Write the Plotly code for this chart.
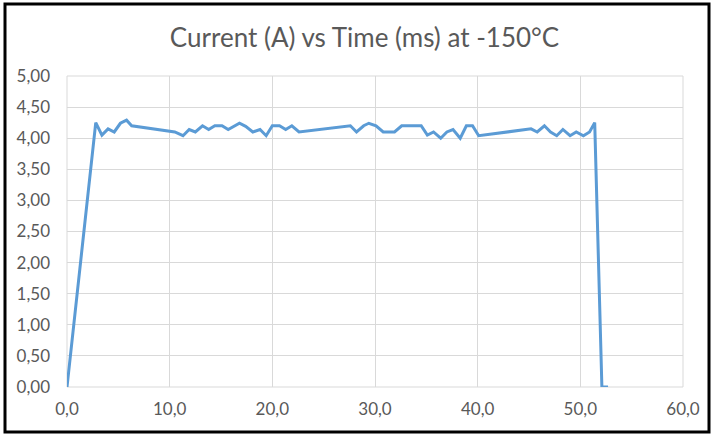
import plotly.graph_objects as go

time_ms = [0.0, 2.8, 3.4, 4.0, 4.6, 5.2, 5.8, 6.3, 10.5, 11.3, 11.9, 12.5, 13.2, 13.8,
           14.4, 15.1, 15.7, 16.3, 16.8, 17.4, 18.1, 18.8, 19.4, 20.0, 20.7, 21.3,
           21.9, 22.6, 27.6, 28.2, 28.9, 29.4, 30.1, 30.8, 31.9, 32.6, 34.5, 35.1,
           35.7, 36.4, 37.0, 37.6, 38.3, 38.9, 39.5, 40.1, 44.8, 45.2, 45.8, 46.5,
           47.1, 47.7, 48.3, 49.0, 49.6, 50.3, 50.9, 51.4, 52.1, 52.7]
current_a = [0.00, 4.25, 4.05, 4.15, 4.10, 4.24, 4.29, 4.20, 4.10, 4.04, 4.14, 4.10, 4.20, 4.14,
             4.20, 4.20, 4.14, 4.20, 4.24, 4.19, 4.10, 4.14, 4.04, 4.20, 4.20, 4.14,
             4.20, 4.10, 4.20, 4.10, 4.20, 4.24, 4.20, 4.10, 4.10, 4.20, 4.20, 4.05,
             4.10, 4.00, 4.10, 4.14, 4.00, 4.20, 4.20, 4.04, 4.15, 4.15, 4.10, 4.20,
             4.10, 4.04, 4.14, 4.04, 4.10, 4.04, 4.10, 4.25, 0.00, 0.00]

title_text = "Current (A) vs Time (ms) at -150°C"

fig = go.Figure()
fig.add_trace(go.Scatter(x=time_ms, y=current_a, mode="lines",
                         line=dict(color="#5B9BD5", width=3), showlegend=False))

font_family = "Lato, Open Sans, sans-serif"
W, H = 712, 434
L, R, T, B = 67, 29, 76, 47
fig.update_layout(
    width=W, height=H,
    margin=dict(l=L, r=R, t=T, b=B),
    paper_bgcolor="white", plot_bgcolor="white",
    separators=",.",
    title=dict(text=title_text, x=0.512, xanchor="center", y=1 - 38 / H, yanchor="middle",
               font=dict(family=font_family, size=26, color="#595959")),
    xaxis=dict(range=[0, 60], dtick=10, tickformat=".1f", showgrid=True,
               gridcolor="#D9D9D9", gridwidth=1, zeroline=False, showline=False,
               ticks="", ticklabelstandoff=10,
               tickfont=dict(family=font_family, size=17, color="#595959")),
    yaxis=dict(range=[0, 5], dtick=0.5, tickformat=".2f", showgrid=True,
               gridcolor="#D9D9D9", gridwidth=1, zeroline=False, showline=False,
               ticks="", ticklabelstandoff=16,
               tickfont=dict(family=font_family, size=17, color="#595959")),
)

fig.add_shape(type="rect", xref="paper", yref="paper", x0=0, x1=1, y0=0, y1=1,
              line=dict(color="#D9D9D9", width=1), layer="below")

# outer black frame of the image
pw, ph = float(W - L - R), float(H - T - B)
fig.add_shape(type="rect", xref="paper", yref="paper",
              x0=(5 - L) / pw, x1=(709 - L) / pw,
              y0=(H - B - 432) / ph, y1=(H - B - 4) / ph,
              line=dict(color="black", width=3))

fig.write_html("out.html", config={"displayModeBar": False},
               post_script="document.body.style.margin='0';document.body.style.overflow='hidden';")
